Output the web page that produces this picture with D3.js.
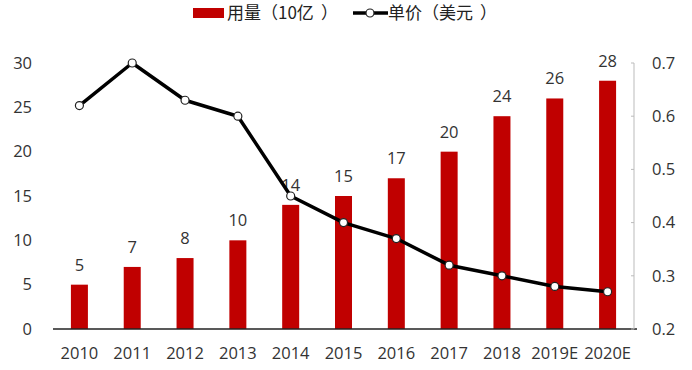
<!DOCTYPE html>
<html><head><meta charset="utf-8">
<script src="https://cdn.jsdelivr.net/npm/d3@7"></script>
<style>
body{margin:0;background:#fff;}
text{font-family:"Open Sans","Noto Sans CJK SC",sans-serif;fill:#333;}
text.cjk{font-family:"Noto Sans CJK SC",sans-serif;fill:#222;}
</style></head>
<body><svg id="c" width="692" height="370"></svg>
<script>
const years = ["2010","2011","2012","2013","2014","2015","2016","2017","2018","2019E","2020E"];
const usage = [5,7,8,10,14,15,17,20,24,26,28];
const price = [0.62,0.70,0.63,0.60,0.45,0.40,0.37,0.32,0.30,0.28,0.27];
const leftTicks = [0,5,10,15,20,25,30];
const rightTicks = [0.2,0.3,0.4,0.5,0.6,0.7];
const seriesNames = [["用量","（","10亿","）"],["单价","（","美元","）"]];

const svg = d3.select("#c");
const L = 53, R = 634, T = 63, B = 329;
const x = d3.scaleBand().domain(years).range([L, R]);
const yL = d3.scaleLinear().domain([0,30]).range([B, T]);
const yR = d3.scaleLinear().domain([0.2,0.7]).range([B, T]);
const fs = "16.5px";

// bars
const bw = 17;
svg.append("g").selectAll("rect").data(usage).join("rect")
  .attr("x",(d,i)=>x(years[i])+x.bandwidth()/2-bw/2)
  .attr("y",d=>yL(d)).attr("width",bw).attr("height",d=>B-yL(d))
  .attr("fill","#C00000");

// bar labels
svg.append("g").selectAll("text").data(usage).join("text")
  .attr("x",(d,i)=>x(years[i])+x.bandwidth()/2)
  .attr("y",d=>yL(d)-14).attr("text-anchor","middle")
  .style("font-size",fs).text(d=>d);

// baseline
svg.append("line").attr("x1",L).attr("x2",R+3).attr("y1",B).attr("y2",B)
  .attr("stroke","#222").attr("stroke-width",1.5);

// left axis labels
svg.append("g").selectAll("text").data(leftTicks).join("text")
  .attr("x",32).attr("y",d=>yL(d)).attr("dy","0.35em").attr("text-anchor","end")
  .style("font-size",fs).text(d=>d);

// right axis
svg.append("line").attr("x1",R).attr("x2",R).attr("y1",T).attr("y2",B)
  .attr("stroke","#bbb").attr("stroke-width",1);
svg.append("g").selectAll("line").data(rightTicks).join("line")
  .attr("x1",R-3).attr("x2",R).attr("y1",d=>yR(d)).attr("y2",d=>yR(d))
  .attr("stroke","#bbb");
svg.append("g").selectAll("text").data(rightTicks).join("text")
  .attr("x",652).attr("y",d=>yR(d)).attr("dy","0.35em")
  .style("font-size",fs).text(d=>d3.format(".1f")(d));

// x labels
svg.append("g").selectAll("text").data(years).join("text")
  .attr("x",d=>x(d)+x.bandwidth()/2).attr("y",358.5).attr("text-anchor","middle")
  .style("font-size",fs).text(d=>d);

// line
const line = d3.line().x((d,i)=>x(years[i])+x.bandwidth()/2).y(d=>yR(d));
svg.append("path").datum(price).attr("d",line).attr("fill","none")
  .attr("stroke","#000").attr("stroke-width",3.5).attr("stroke-linejoin","round");
svg.append("g").selectAll("circle").data(price).join("circle")
  .attr("cx",(d,i)=>x(years[i])+x.bandwidth()/2).attr("cy",d=>yR(d)).attr("r",4)
  .attr("fill","#fff").attr("stroke","#222").attr("stroke-width",1.2);

// legend
const lg = svg.append("g");
function legendText(xs, parts){
  const t = lg.append("text").attr("class","cjk").attr("y",13).attr("dy","0.35em").style("font-size","17px");
  parts.forEach((p,i)=>t.append("tspan").attr("x",xs[i]).text(p));
}
lg.append("rect").attr("x",193).attr("y",8).attr("width",31).attr("height",10).attr("fill","#C00000");
legendText([227,261,278,321], seriesNames[0]);
lg.append("line").attr("x1",353).attr("x2",388).attr("y1",13).attr("y2",13).attr("stroke","#000").attr("stroke-width",3.5);
lg.append("circle").attr("cx",370).attr("cy",13).attr("r",4).attr("fill","#fff").attr("stroke","#222").attr("stroke-width",1.2);
legendText([388,422,439,480], seriesNames[1]);
</script></body></html>
